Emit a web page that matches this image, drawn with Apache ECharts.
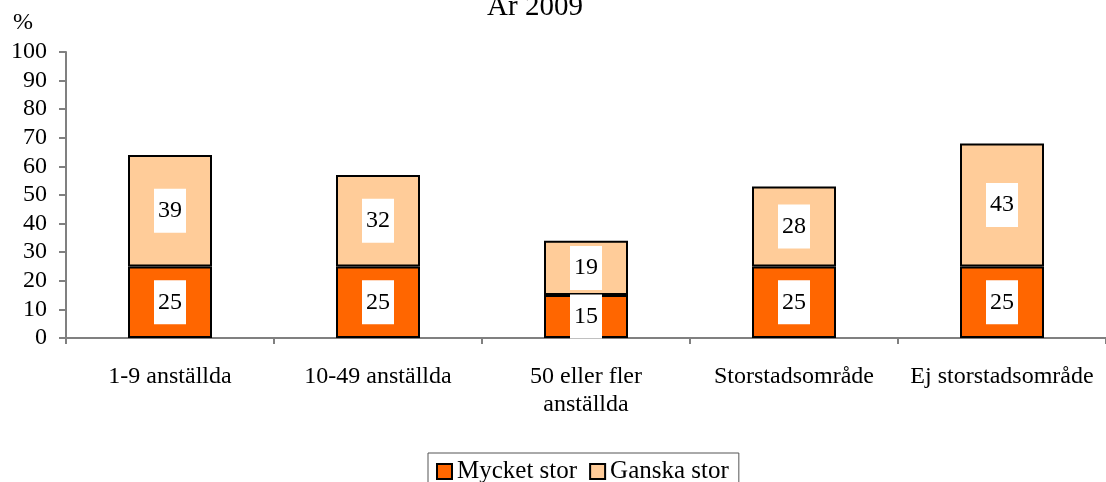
<!DOCTYPE html>
<html>
<head>
<meta charset="utf-8">
<script src="https://cdn.jsdelivr.net/npm/echarts@6/dist/echarts.min.js"></script>
<style>
  html, body { margin: 0; padding: 0; background: #fff; }
  #chart { width: 1106px; height: 482px; }
</style>
</head>
<body>
<div id="chart"></div>
<script>
// categories and values
var categories = ['1-9 anställda', '10-49 anställda', '50 eller fler\nanställda', 'Storstadsområde', 'Ej storstadsområde'];
var mycketStor = [25, 25, 15, 25, 25];
var ganskaStor = [39, 32, 19, 28, 43];
var yTicks = [0, 10, 20, 30, 40, 50, 60, 70, 80, 90, 100];

var font = '"Liberation Serif", "Times New Roman", serif';

var labelStyle = {
    show: true,
    position: 'inside',
    color: '#000',
    fontFamily: font,
    fontSize: 24,
    backgroundColor: '#fff',
    padding: [10, 4, 10, 4]
};

var myChart = echarts.init(document.getElementById('chart'));
var option = {
    animation: false,
    title: {
        text: 'År 2009',
        left: 530,
        textAlign: 'center',
        top: -12,
        textStyle: { fontFamily: font, fontSize: 29, fontWeight: 'normal', color: '#000' }
    },
    legend: {
        data: ['Mycket stor', 'Ganska stor'],
        bottom: -12,
        left: 428,
        icon: 'rect',
        itemWidth: 15,
        itemHeight: 15,
        itemGap: 12,
        padding: [6, 10, 10, 8],
        borderColor: '#555',
        borderWidth: 1,
        textStyle: { fontFamily: font, fontSize: 25, color: '#000' }
    },
    grid: {
        left: 66,
        right: -5,
        top: 52,
        bottom: 144
    },
    xAxis: {
        type: 'category',
        data: categories,
        axisLine: { lineStyle: { color: '#808080', width: 2 } },
        axisTick: { show: true, length: 6, lineStyle: { color: '#808080', width: 2 } },
        axisLabel: {
            color: '#000',
            fontFamily: font,
            fontSize: 24,
            lineHeight: 28,
            margin: 25,
            interval: 0
        }
    },
    yAxis: {
        type: 'value',
        min: yTicks[0],
        max: yTicks[yTicks.length - 1],
        interval: 10,
        name: '%',
        nameLocation: 'end',
        nameGap: 17,
        nameTextStyle: { fontFamily: font, fontSize: 24, color: '#000', align: 'right', padding: [0, 33, 0, 0] },
        axisLine: { show: true, lineStyle: { color: '#808080', width: 2 } },
        axisTick: { show: true, length: 7, lineStyle: { color: '#808080', width: 2 } },
        axisLabel: { color: '#000', fontFamily: font, fontSize: 24, margin: 19 },
        splitLine: { show: false }
    },
    series: [
        {
            name: 'Mycket stor',
            type: 'bar',
            stack: 'total',
            barWidth: 84,
            data: mycketStor,
            itemStyle: { color: '#FF6600', borderColor: '#000', borderWidth: 2 },
            label: labelStyle
        },
        {
            name: 'Ganska stor',
            type: 'bar',
            stack: 'total',
            barWidth: 84,
            data: ganskaStor,
            itemStyle: { color: '#FFCC99', borderColor: '#000', borderWidth: 2 },
            label: labelStyle
        }
    ]
};
myChart.setOption(option);
</script>
</body>
</html>
